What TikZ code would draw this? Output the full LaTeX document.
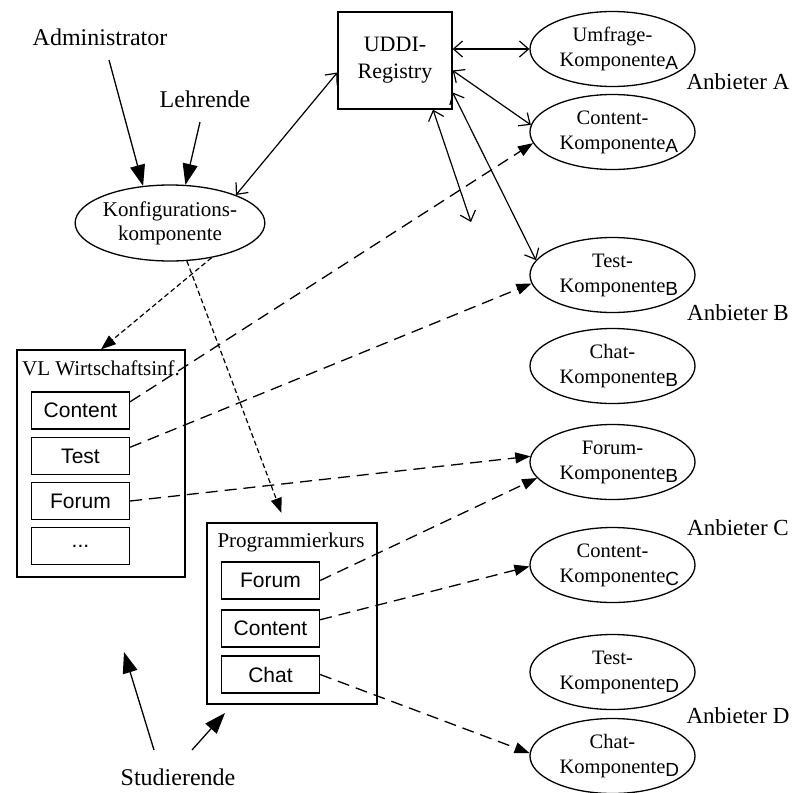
\documentclass[tikz,border=0pt]{standalone}
\usepackage{fontspec}
\setmainfont{Liberation Serif}
\newfontfamily\arialfont{Liberation Sans}
\usetikzlibrary{arrows.meta,shapes.geometric,calc}
\newcommand\provsub[1]{\rlap{\raisebox{-3pt}{\arialfont\fontsize{19}{19}\selectfont #1}}}
\begin{document}
\begin{tikzpicture}[x=1pt,y=-1pt,
  comp/.style={ellipse,draw,line width=1.3pt,minimum width=165pt,minimum height=75pt,inner sep=0pt,align=center,font=\fontsize{20.5}{25}\selectfont},
  lbl/.style={inner sep=0pt,font=\fontsize{24}{24}\selectfont},
  anb/.style={inner sep=0pt,font=\fontsize{23}{23}\selectfont},
  outer/.style={draw,line width=1.3pt,rectangle,inner sep=0pt},
  sub/.style={draw,line width=1.3pt,rectangle,inner sep=0pt,minimum width=98pt,minimum height=37pt,font=\arialfont\fontsize{21}{21}\selectfont},
  ttl/.style={inner sep=0pt,font=\fontsize{21}{21}\selectfont},
  dbl/.style={line width=1.2pt,{Straight Barb[length=9pt,width=16pt]}-{Straight Barb[length=9pt,width=16pt]}},
  dsh/.style={line width=1.3pt,dash pattern=on 12pt off 7pt,-{Triangle[length=15pt,width=11pt]}},
  dot/.style={line width=1.2pt,dash pattern=on 5pt off 3pt,-{Triangle[length=15pt,width=11pt]}},
  big/.style={line width=1.3pt,-{Triangle[length=21pt,width=15pt]}}
]
\useasboundingbox (0,0) rectangle (794,792);

% UDDI registry
\node[outer,minimum width=114pt,minimum height=97pt,align=center,font=\fontsize{22}{27}\selectfont] (uddi) at (395,60.5) {UDDI-\\Registry};

% components
\node[comp] (umf) at (612.5,49) {Umfrage-\\Komponente\provsub{A}};
\node[comp] (contA) at (612.5,132) {Content-\\Komponente\provsub{A}};
\node[comp] (testB) at (612.5,275) {Test-\\Komponente\provsub{B}};
\node[comp] (chatB) at (612.5,366) {Chat-\\Komponente\provsub{B}};
\node[comp] (forumB) at (612.5,462) {Forum-\\Komponente\provsub{B}};
\node[comp] (contC) at (612.5,565) {Content-\\Komponente\provsub{C}};
\node[comp] (testD) at (612.5,672) {Test-\\Komponente\provsub{D}};
\node[comp] (chatD) at (612.5,756) {Chat-\\Komponente\provsub{D}};

\node[anb] (anbA) at (738,82) {Anbieter A};
\node[anb] (anbB) at (738,313) {Anbieter B};
\node[anb] (anbC) at (738,528) {Anbieter C};
\node[anb] (anbD) at (738,716) {Anbieter D};

% configuration component
\node[ellipse,draw,line width=1.3pt,minimum width=166pt,minimum height=76pt,inner sep=0pt,align=center,font=\fontsize{21}{24}\selectfont] (konf) at (170,223) {Konfigurations-\\komponente};

% roles
\node[lbl] (adm) at (100,37) {Administrator};
\node[lbl] (lehr) at (205,99) {Lehrende};
\node[lbl] (stud) at (178,777) {Studierende};

% VL Wirtschaftsinf.
\node[outer,minimum width=168pt,minimum height=227pt] (vl) at (101,463.5) {};
\node[ttl] (vlt) at (101,368) {VL Wirtschaftsinf.};
\node[sub] (vlc) at (80.5,410.5) {Content};
\node[sub] (vlte) at (80.5,456) {Test};
\node[sub] (vlf) at (80.5,501) {Forum};
\node[sub] (vld) at (80.5,546) {...};

% Programmierkurs
\node[outer,minimum width=170pt,minimum height=181pt] (pk) at (292,613.5) {};
\node[ttl] (pkt) at (291,542) {Programmierkurs};
\node[sub] (pkf) at (270.5,580.5) {Forum};
\node[sub] (pkc) at (270.5,628.5) {Content};
\node[sub] (pkch) at (270.5,674.5) {Chat};

% UDDI connectors
\coordinate (free) at (471,222);
\draw[dbl] ([yshift=-12pt]uddi.west) -- (konf.23);
\draw[dbl] (uddi.east |- umf.west) -- (umf.west);
\draw[dbl] ([yshift=-10pt]uddi.east) -- (contA.175);
\draw[dbl] ([yshift=-32pt]uddi.east) -- (testB.169);
\draw[dbl] ([xshift=38pt]uddi.south) -- (free);

% role arrows
\coordinate (admS) at (109,60);
\coordinate (lehrS) at (200,122);
\coordinate (studL) at (154,750);
\coordinate (studR) at (192,750);
\coordinate (vlT) at (124,652);
\coordinate (pkT) at (225,713);
\draw[big] (admS) -- (konf.126);
\draw[big] (lehrS) -- (konf.68);
\draw[big] (studL) -- (vlT);
\draw[big] (studR) -- (pkT);

% configuration arrows
\draw[dot] (konf.-40) -- (vl.north);
\draw[dot,shorten >=10pt] (konf.-66) -- ([xshift=-7pt]pk.north);

% bindings
\draw[dsh] (vlc.10) -- (contA.188);
\draw[dsh] (vlte.10) -- (testB.186);
\draw[dsh] (vlf.east) -- (forumB.176);
\draw[dsh] (pkf.east) -- (forumB.192);
\draw[dsh] (pkc.10) -- (contC.181);
\draw[dsh] (pkch.east) -- (chatD.178);
\end{tikzpicture}
\end{document}
